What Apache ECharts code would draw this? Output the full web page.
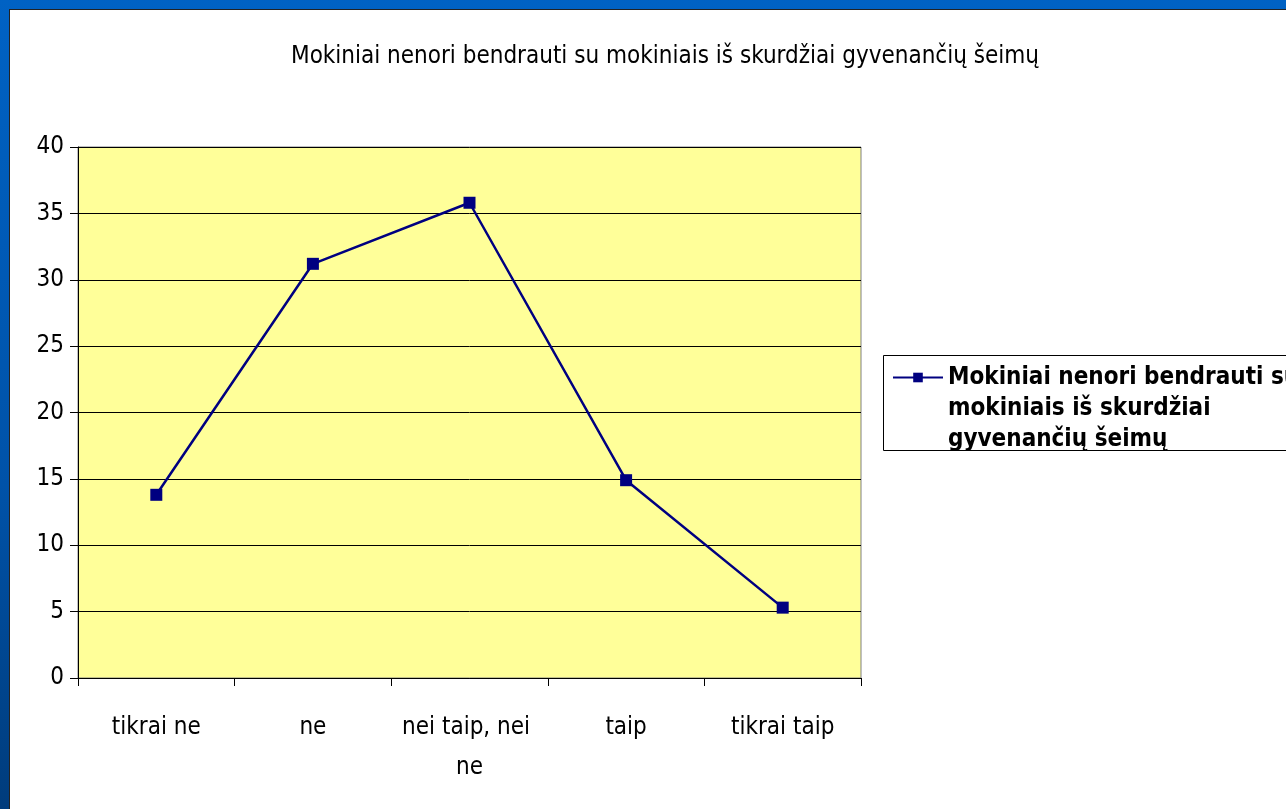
<!DOCTYPE html>
<html>
<head>
<meta charset="utf-8">
<script src="https://cdn.jsdelivr.net/npm/echarts@6/dist/echarts.min.js"></script>
<style>
  html, body { margin: 0; padding: 0; }
  body {
    width: 1286px; height: 809px; overflow: hidden;
    background: linear-gradient(to bottom, #0062c4 0%, #0052a8 60%, #003c7c 100%);
  }
  #slide {
    position: absolute; left: 9px; top: 9px; width: 1286px; height: 809px;
    background: #fff; border-left: 1px solid #222; border-top: 1px solid #222;
  }
  #chart { position: absolute; left: 0; top: 0; width: 1286px; height: 809px; }
</style>
</head>
<body>
<div id="slide"></div>
<div id="chart"></div>
<script>
var titleText = "Mokiniai nenori bendrauti su mokiniais iš skurdžiai gyvenančių šeimų";
var categories = ["tikrai ne", "ne", "nei taip, nei ne", "taip", "tikrai taip"];
var values = [13.8, 31.2, 35.8, 14.9, 5.3];
var yTicks = { min: 0, max: 40, interval: 5 };

var font = "'Liberation Sans Narrow', 'Arial Narrow', 'DejaVu Sans Condensed', sans-serif";

var myChart = echarts.init(document.getElementById("chart"));
var option = {
  animation: false,
  title: {
    text: titleText,
    left: 660,
    top: 40,
    textAlign: "center",
    textStyle: { fontFamily: font, fontSize: 24, fontWeight: "normal", color: "#000" }
  },
  // legend frame (the legend itself is drawn without border so the marker sits on line 1)
  graphic: [
    {
      type: "rect",
      z: 1,
      shape: { x: 883.5, y: 355.5, width: 420, height: 95 },
      style: { fill: "#fff", stroke: "#000", lineWidth: 1 }
    }
  ],
  grid: {
    left: 78, right: 425, top: 147, bottom: 131,
    show: true,
    backgroundColor: "#ffff99",
    borderColor: "#808080",
    borderWidth: 1
  },
  legend: {
    left: 892,
    top: 300,
    z: 5,
    orient: "vertical",
    itemWidth: 50,
    itemHeight: 12,
    itemGap: 0,
    padding: 0,
    formatter: function (name) {
      // wrap like the original legend; two empty lines keep the marker on the first line
      return "\n\n" + name.replace(" mokiniais", "\nmokiniais").replace(" gyvenančių", "\ngyvenančių");
    },
    textStyle: {
      fontFamily: font, fontSize: 24, fontWeight: "bold", color: "#000",
      lineHeight: 31
    }
  },
  xAxis: {
    type: "category",
    data: categories,
    boundaryGap: true,
    axisLine: { lineStyle: { color: "#000", width: 1 } },
    axisTick: { show: true, length: 8, inside: false, lineStyle: { color: "#000" } },
    axisLabel: {
      fontFamily: font, fontSize: 24, color: "#000", margin: 30,
      width: 140, overflow: "break", lineHeight: 40, interval: 0
    },
    splitLine: { show: false }
  },
  yAxis: {
    type: "value",
    min: yTicks.min, max: yTicks.max, interval: yTicks.interval,
    axisLine: { show: true, lineStyle: { color: "#000", width: 1 } },
    axisTick: { show: true, length: 8, lineStyle: { color: "#000" } },
    axisLabel: { fontFamily: font, fontSize: 24, color: "#000", margin: 14 },
    splitLine: { show: true, lineStyle: { color: "#000", width: 1 } }
  },
  series: [
    {
      name: titleText,
      type: "line",
      data: values,
      symbol: "rect",
      symbolSize: 12,
      lineStyle: { color: "#000080", width: 2.5 },
      itemStyle: { color: "#000080" }
    }
  ]
};
myChart.setOption(option);
</script>
</body>
</html>
